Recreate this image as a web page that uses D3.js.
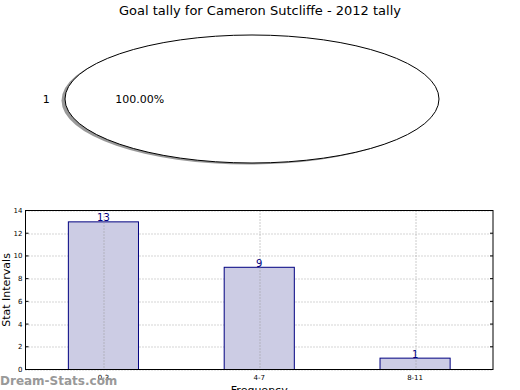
<!DOCTYPE html>
<html>
<head>
<meta charset="utf-8">
<script src="https://cdn.jsdelivr.net/npm/d3@7"></script>
<style>
  body { margin: 0; background: #fff; }
  svg { font-family: "DejaVu Sans", sans-serif; display: block; }
</style>
</head>
<body>
<div id="canvas"></div>
<script>
// data
const pieLabels = ["1"];
const pieValues = [1];
const categories = ["0-3", "4-7", "8-11"];
const counts = [13, 9, 1];
const yTicks = [0, 2, 4, 6, 8, 10, 12, 14];

const dims = { width: 520, height: 390 };
const pieDims = { cx: 252, cy: 99, rx: 187, ry: 64 };
const margin = { top: 210.5, left: 25.5, right: 27, bottom: 20.5 };
const plotW = dims.width - margin.left - margin.right;
const plotH = dims.height - margin.top - margin.bottom;

const svg = d3
  .select("#canvas")
  .append("svg")
  .attr("width", dims.width)
  .attr("height", dims.height);

// Title
svg
  .append("text")
  .attr("x", 260)
  .attr("y", 15)
  .attr("text-anchor", "middle")
  .style("font-size", "13px")
  .text("Goal tally for Cameron Sutcliffe - 2012 tally");

///// Pie (stretched into an ellipse) /////
const R = 100;
const pieGen = d3
  .pie()
  .sort(null)
  .startAngle(Math.PI / 2)
  .endAngle(Math.PI / 2 + 2 * Math.PI);
const arcGen = d3.arc().innerRadius(0).outerRadius(R);
const slices = pieGen(pieValues);

// shadow
svg
  .append("g")
  .attr("transform", `translate(${pieDims.cx - 3.5}, ${pieDims.cy + 1.5}) scale(${pieDims.rx / R}, ${pieDims.ry / R})`)
  .selectAll("path")
  .data(slices)
  .enter()
  .append("path")
  .attr("d", arcGen)
  .attr("fill", "#000")
  .attr("fill-opacity", 0.4);

const pieGroup = svg
  .append("g")
  .attr("transform", `translate(${pieDims.cx}, ${pieDims.cy}) scale(${pieDims.rx / R}, ${pieDims.ry / R})`);

pieGroup
  .selectAll("path")
  .data(slices)
  .enter()
  .append("path")
  .attr("d", arcGen)
  .attr("fill", "#fff")
  .attr("stroke", "#000")
  .attr("stroke-width", 1)
  .attr("vector-effect", "non-scaling-stroke");

const total = d3.sum(pieValues);
slices.forEach((d, i) => {
  const a = (d.startAngle + d.endAngle) / 2;
  const px = f => pieDims.cx + Math.sin(a) * f * pieDims.rx;
  const py = f => pieDims.cy - Math.cos(a) * f * pieDims.ry;
  svg
    .append("text")
    .attr("x", px(1.1))
    .attr("y", py(1.1))
    .attr("dy", "0.35em")
    .attr("text-anchor", "middle")
    .style("font-size", "11px")
    .text(pieLabels[i]);
  svg
    .append("text")
    .attr("x", px(0.6))
    .attr("y", py(0.6))
    .attr("dy", "0.35em")
    .attr("text-anchor", "middle")
    .style("font-size", "11px")
    .text(((pieValues[i] / total) * 100).toFixed(2) + "%");
});

///// Bar chart /////
const graph = svg
  .append("g")
  .attr("transform", `translate(${margin.left}, ${margin.top})`);

const xScale = d3.scaleLinear().domain([-0.5, categories.length - 0.5]).range([0, plotW]);
const yScale = d3.scaleLinear().domain([0, 14]).range([plotH, 0]);
const barW = 0.45;

// grid
graph
  .selectAll(".ygrid")
  .data(yTicks)
  .enter()
  .append("line")
  .attr("x1", 0)
  .attr("x2", plotW)
  .attr("y1", d => Math.round(yScale(d)) + 0.5)
  .attr("y2", d => Math.round(yScale(d)) + 0.5)
  .attr("stroke", "#aaa")
  .attr("stroke-dasharray", "1,2");

// bars
graph
  .selectAll("rect")
  .data(counts)
  .enter()
  .append("rect")
  .attr("x", (d, i) => xScale(i - barW / 2))
  .attr("y", d => yScale(d))
  .attr("width", xScale(barW) - xScale(0))
  .attr("height", d => plotH - yScale(d))
  .attr("fill", "#cccce4")
  .attr("stroke", "#000080")
  .attr("stroke-width", 1);

graph
  .selectAll(".xgrid")
  .data(categories)
  .enter()
  .append("line")
  .attr("x1", (d, i) => Math.round(xScale(i)) + 0.5)
  .attr("x2", (d, i) => Math.round(xScale(i)) + 0.5)
  .attr("y1", 0)
  .attr("y2", plotH)
  .attr("stroke", "#999")
  .attr("stroke-dasharray", "1,2");

// value labels
graph
  .selectAll(".val")
  .data(counts)
  .enter()
  .append("text")
  .attr("x", (d, i) => xScale(i))
  .attr("y", d => yScale(d) - 0.5)
  .attr("text-anchor", "middle")
  .attr("fill", "#000080")
  .style("font-size", "10px")
  .text(d => d);

// axes frame
graph
  .append("rect")
  .attr("width", plotW)
  .attr("height", plotH)
  .attr("fill", "none")
  .attr("stroke", "#000")
  .attr("stroke-width", 1);

// y ticks
const yAxisG = graph.append("g");
yAxisG
  .selectAll("line.tl")
  .data(yTicks)
  .enter()
  .append("line")
  .attr("x1", 0)
  .attr("x2", 3)
  .attr("y1", d => yScale(d))
  .attr("y2", d => yScale(d))
  .attr("stroke", "#000");
yAxisG
  .selectAll("line.tr")
  .data(yTicks)
  .enter()
  .append("line")
  .attr("x1", plotW)
  .attr("x2", plotW - 3)
  .attr("y1", d => yScale(d))
  .attr("y2", d => yScale(d))
  .attr("stroke", "#000");
yAxisG
  .selectAll("text")
  .data(yTicks)
  .enter()
  .append("text")
  .attr("x", -3)
  .attr("y", d => yScale(d))
  .attr("dy", "0.35em")
  .attr("text-anchor", "end")
  .style("font-size", "7px")
  .text(d => d);

// x ticks
const xAxisG = graph.append("g");
xAxisG
  .selectAll("text")
  .data(categories)
  .enter()
  .append("text")
  .attr("x", (d, i) => xScale(i))
  .attr("y", plotH + 10)
  .attr("text-anchor", "middle")
  .style("font-size", "7px")
  .text(d => d);

// axis labels
svg
  .append("text")
  .attr("transform", `translate(9.5, ${margin.top + plotH / 2}) rotate(-90)`)
  .attr("text-anchor", "middle")
  .style("font-size", "11px")
  .text("Stat Intervals");

svg
  .append("text")
  .attr("x", margin.left + plotW / 2)
  .attr("y", 394)
  .attr("text-anchor", "middle")
  .style("font-size", "11px")
  .text("Frequency");

// watermark
svg
  .append("text")
  .attr("x", 0)
  .attr("y", 385)
  .attr("fill", "#999")
  .style("font-size", "12px")
  .style("font-weight", "bold")
  .text("Dream-Stats.com");
</script>
</body>
</html>
